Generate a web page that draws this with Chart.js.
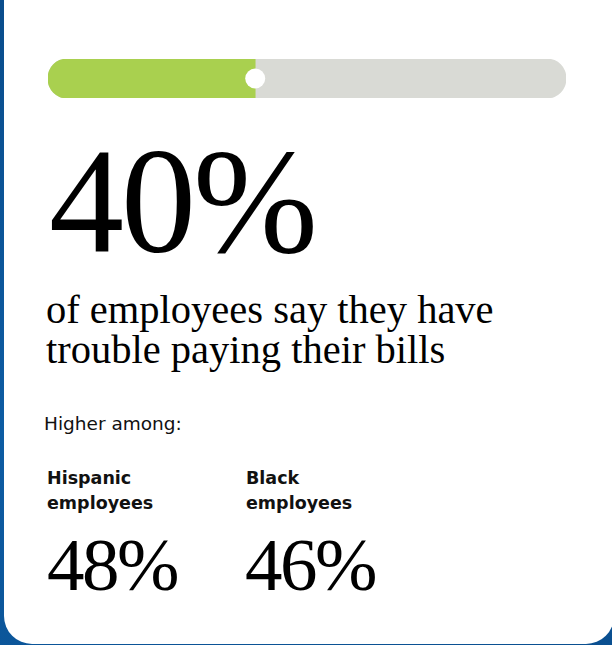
<!DOCTYPE html>
<html>
<head>
<meta charset="utf-8">
<script src="https://cdn.jsdelivr.net/npm/chart.js@4"></script>
<style>
  html, body { margin: 0; padding: 0; }
  body {
    width: 612px; height: 645px; overflow: hidden; position: relative;
    background: linear-gradient(160deg, #0a4d8c 0%, #0d5ca3 50%, #0a4f90 100%);
  }
  .card {
    position: absolute; left: 4px; top: -40px; width: 610px; height: 684px;
    background: #fff; border-radius: 28px;
  }
  .t { position: absolute; color: #000; white-space: nowrap; }
  .serif { font-family: "Liberation Serif", "Times New Roman", serif; }
  .sans { font-family: "DejaVu Sans", sans-serif; }
  #big { left: 49px; top: 126px; font-size: 150px; line-height: 150px; letter-spacing: -3px; }
  .sub { left: 46px; font-size: 40.5px; line-height: 40px; }
  #among { left: 44px; top: 415px; font-size: 18.5px; line-height: 18px; color: #111; }
  .grp { font-size: 17.5px; line-height: 25px; font-weight: 700; top: 466px; color: #111; }
  .pct { font-size: 75px; line-height: 75px; letter-spacing: -2.5px; top: 527px; }
  #barWrap { position: absolute; left: 48px; top: 59px; width: 518px; height: 39px; }
</style>
</head>
<body>
<div class="card"></div>
<div id="barWrap"><canvas id="progress"></canvas></div>

<div class="t serif" id="big"></div>
<div class="t serif sub" style="top:290px">of employees say they have</div>
<div class="t serif sub" style="top:330px">trouble paying their bills</div>
<div class="t sans" id="among">Higher among:</div>
<div class="t sans grp" id="g0" style="left:47px"></div>
<div class="t sans grp" id="g1" style="left:246px"></div>
<div class="t serif pct" id="p0" style="left:47px"></div>
<div class="t serif pct" id="p1" style="left:245px"></div>

<script>
// overall share and breakdown by group
const overall = 40;
const groups = ["Hispanic employees", "Black employees"];
const groupValues = [48, 46];

document.getElementById("big").textContent = overall + "%";
groups.forEach((g, i) => {
  const words = g.split(" ");
  document.getElementById("g" + i).innerHTML = words[0] + "<br>" + words.slice(1).join(" ");
  document.getElementById("p" + i).textContent = groupValues[i] + "%";
});

// white marker where the filled part ends
const markerPlugin = {
  id: "marker",
  afterDatasetsDraw(chart) {
    const { ctx, scales } = chart;
    const x = scales.x.getPixelForValue(overall);
    const y = scales.y.getPixelForValue(0);
    ctx.save();
    ctx.beginPath();
    ctx.arc(x, y, 10, 0, Math.PI * 2);
    ctx.fillStyle = "#ffffff";
    ctx.fill();
    ctx.restore();
  }
};

const ctx = document.getElementById("progress").getContext("2d");
new Chart(ctx, {
  type: "bar",
  data: {
    labels: ["share"],
    datasets: [
      // filled part sits on top of the full track
      {
        data: [overall], backgroundColor: "#a9d04f", grouped: false, borderSkipped: false,
        borderRadius: { topLeft: 19, bottomLeft: 19, topRight: 0, bottomRight: 0 }
      },
      {
        data: [100], backgroundColor: "#d9dad5", grouped: false, borderSkipped: false,
        borderRadius: 19
      }
    ]
  },
  options: {
    indexAxis: "y",
    responsive: true,
    maintainAspectRatio: false,
    animation: false,
    layout: { padding: 0 },
    datasets: { bar: { barPercentage: 1, categoryPercentage: 1 } },
    scales: {
      x: { min: 0, max: 100, display: false },
      y: { display: false }
    },
    plugins: { legend: { display: false }, tooltip: { enabled: false } }
  },
  plugins: [markerPlugin]
});
</script>
</body>
</html>
